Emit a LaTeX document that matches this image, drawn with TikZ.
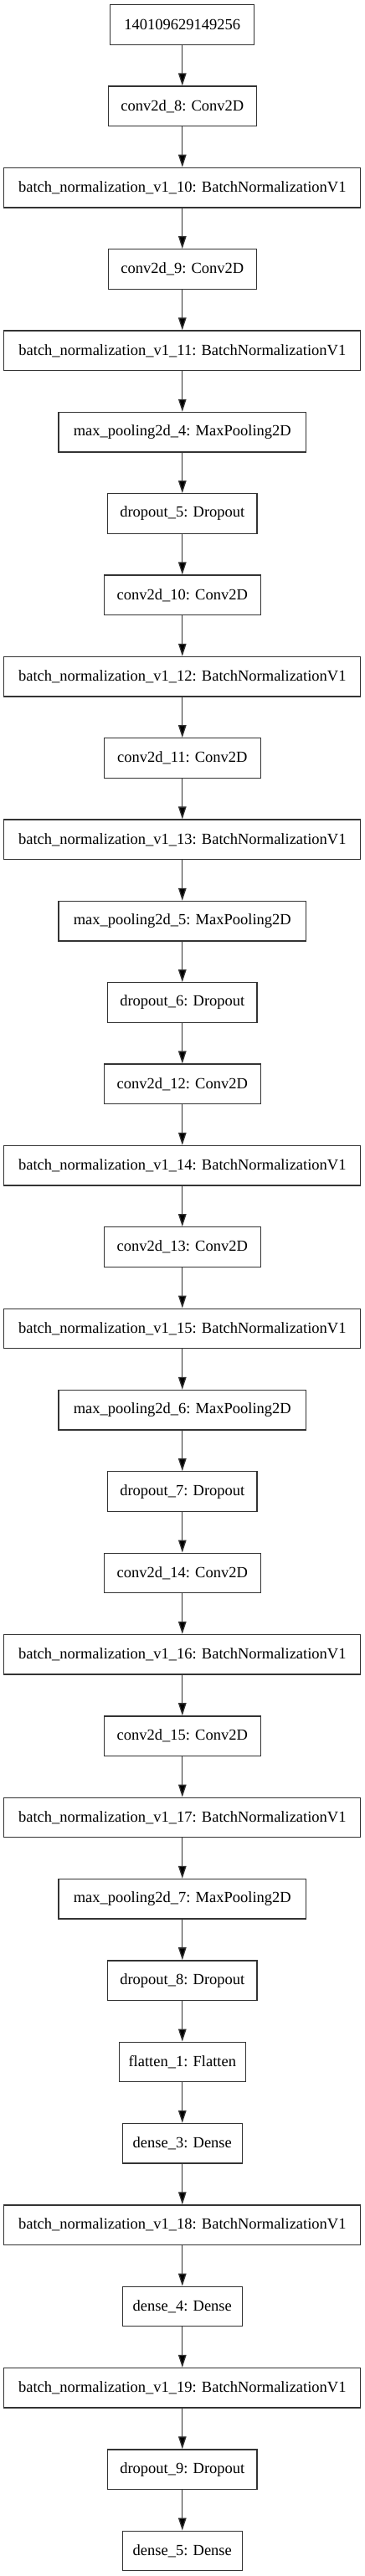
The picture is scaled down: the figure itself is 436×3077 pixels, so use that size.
\documentclass[tikz,border=0pt]{standalone}
\usepackage{fontspec}
\setmainfont{Liberation Serif}
\usetikzlibrary{arrows.meta}
\begin{document}
\begin{tikzpicture}[x=1pt,y=-1pt,
  layer/.style={draw=black!80,line width=1.3pt,fill=white,minimum height=47.5pt,inner sep=0pt,
    font=\fontsize{18.5}{22}\selectfont,text=black},
  edge/.style={draw=black!80,line width=1.3pt,-{Triangle[length=15pt,width=9.5pt,fill=black]}}]
\useasboundingbox[fill=white] (0,0) rectangle (436,3077);
\foreach \i/\nm/\lab/\w in {
 0/n0/140109629149256/172,
 1/n1/conv2d\_8: Conv2D/177,
 2/n2/batch\_normalization\_v1\_10: BatchNormalizationV1/426,
 3/n3/conv2d\_9: Conv2D/177,
 4/n4/batch\_normalization\_v1\_11: BatchNormalizationV1/426,
 5/n5/max\_pooling2d\_4: MaxPooling2D/295.5,
 6/n6/dropout\_5: Dropout/178.5,
 7/n7/conv2d\_10: Conv2D/187,
 8/n8/batch\_normalization\_v1\_12: BatchNormalizationV1/426,
 9/n9/conv2d\_11: Conv2D/187,
 10/n10/batch\_normalization\_v1\_13: BatchNormalizationV1/426,
 11/n11/max\_pooling2d\_5: MaxPooling2D/295.5,
 12/n12/dropout\_6: Dropout/178.5,
 13/n13/conv2d\_12: Conv2D/187,
 14/n14/batch\_normalization\_v1\_14: BatchNormalizationV1/426,
 15/n15/conv2d\_13: Conv2D/187,
 16/n16/batch\_normalization\_v1\_15: BatchNormalizationV1/426,
 17/n17/max\_pooling2d\_6: MaxPooling2D/295.5,
 18/n18/dropout\_7: Dropout/178.5,
 19/n19/conv2d\_14: Conv2D/187,
 20/n20/batch\_normalization\_v1\_16: BatchNormalizationV1/426,
 21/n21/conv2d\_15: Conv2D/187,
 22/n22/batch\_normalization\_v1\_17: BatchNormalizationV1/426,
 23/n23/max\_pooling2d\_7: MaxPooling2D/295.5,
 24/n24/dropout\_8: Dropout/178.5,
 25/n25/flatten\_1: Flatten/151,
 26/n26/dense\_3: Dense/142.7,
 27/n27/batch\_normalization\_v1\_18: BatchNormalizationV1/426,
 28/n28/dense\_4: Dense/142.7,
 29/n29/batch\_normalization\_v1\_19: BatchNormalizationV1/426,
 30/n30/dropout\_9: Dropout/178.5,
 31/n31/dense\_5: Dense/142.7}
{
  \node[layer,minimum width=\w pt] (\nm) at (217.8,{29.45+97.34*\i}) {\lab};
}
\foreach \a [evaluate=\a as \b using int(\a+1)] in {0,...,30}{
  \draw[edge] (n\a.south) -- (n\b.north);
}
\end{tikzpicture}
\end{document}
